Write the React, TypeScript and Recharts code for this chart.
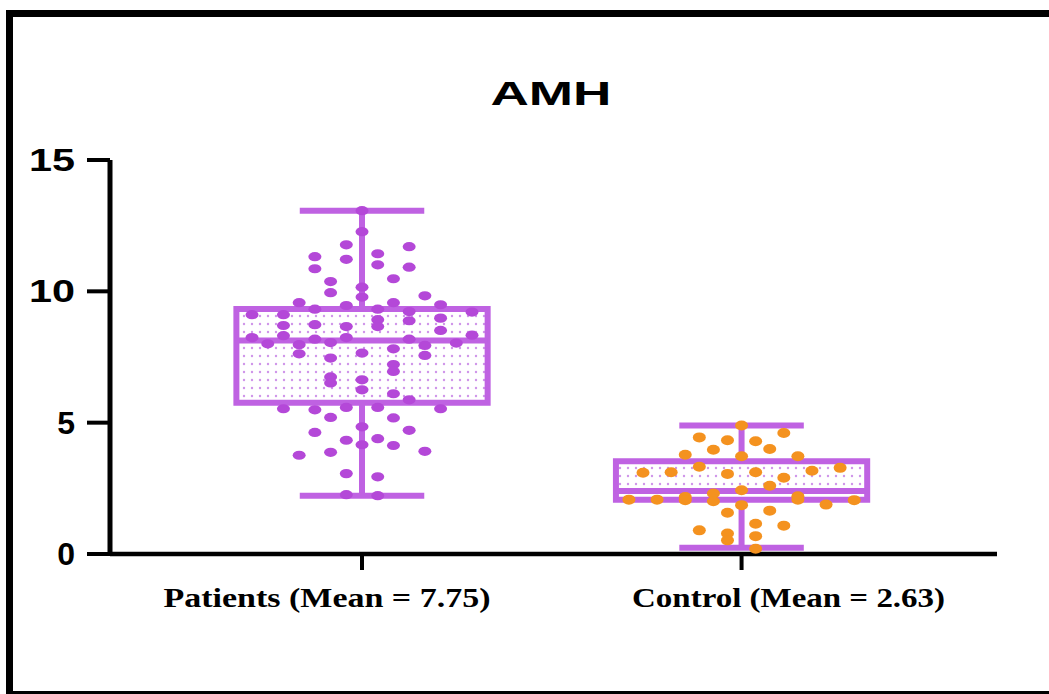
import React from 'react';
import { ScatterChart, Scatter, XAxis, YAxis, ReferenceArea, ReferenceLine } from 'recharts';

const categories = ['Patients (Mean = 7.75)', 'Control (Mean = 2.63)'];
const groupPos = [1, 2];
const yTicks = [0, 5, 10, 15];

// [min, q1, median, q3, max]
const patientStats = [2.22, 5.76, 8.13, 9.33, 13.07];
const controlStats = [0.24, 2.07, 2.4, 3.53, 4.89];

// [jitter column, value]
const patientPoints = [
  [0, 13.07], [0, 12.27], [-1, 11.77], [3, 11.7], [-3, 11.32], [1, 11.43], [-1, 11.22], [1, 11.01],
  [-3, 10.86], [3, 10.92], [2, 10.48], [-2, 10.37], [-2, 9.95], [0, 10.16], [0, 9.78], [4, 9.83],
  [-4, 9.57], [2, 9.57], [-1, 9.46], [5, 9.49], [-3, 9.32], [1, 9.32], [-7, 9.11], [-5, 9.11],
  [3, 9.23], [7, 9.21], [1, 8.92], [3, 8.88], [5, 8.98], [-5, 8.7], [-3, 8.73], [-1, 8.66],
  [1, 8.66], [5, 8.51], [-7, 8.24], [-5, 8.31], [-3, 8.18], [-1, 8.24], [3, 8.18], [7, 8.33],
  [-6, 8.0], [-4, 7.97], [-2, 8.05], [4, 7.94], [6, 8.03], [-4, 7.62], [0, 7.65], [2, 7.81],
  [4, 7.56], [-2, 7.46], [2, 7.21], [2, 6.95], [-2, 6.74], [-2, 6.51], [0, 6.63], [0, 6.25],
  [2, 6.1], [3, 5.87], [-5, 5.53], [-3, 5.49], [-1, 5.58], [1, 5.58], [5, 5.53], [-2, 5.2],
  [2, 5.18], [0, 4.84], [-3, 4.63], [3, 4.71], [-1, 4.33], [1, 4.39], [0, 4.16], [2, 4.13],
  [-4, 3.76], [-2, 3.87], [4, 3.91], [-1, 3.06], [1, 2.94], [-1, 2.26], [1, 2.22],
];

const controlPoints = [
  [0, 4.89], [3, 4.61], [-3, 4.44], [-1, 4.33], [1, 4.29], [-2, 3.97], [2, 4.0], [-4, 3.78],
  [0, 3.72], [4, 3.72], [-3, 3.32], [7, 3.28], [-7, 3.09], [-5, 3.11], [-1, 3.05], [1, 3.11],
  [5, 3.17], [3, 2.9], [2, 2.6], [0, 2.43], [-2, 2.3], [-4, 2.17], [4, 2.2], [-8, 2.07],
  [-6, 2.07], [-4, 2.05], [-2, 2.01], [4, 2.07], [8, 2.05], [0, 1.86], [6, 1.88], [-1, 1.57],
  [2, 1.65], [1, 1.15], [3, 1.08], [-3, 0.9], [-1, 0.78], [-1, 0.52], [1, 0.68], [1, 0.2],
];

// layout
const BOX_HALF = 0.331;
const CAP_HALF = 0.164;
const PATIENT_STEP = 0.0414;
const CONTROL_STEP = 0.0371;
const labelShift = [-35, 47];
const labelWidth = [327, 313];
const BOX_COLOR = '#bf62e2';

const patientData = patientPoints.map(([c, v]) => ({ x: groupPos[0] + c * PATIENT_STEP, y: v }));
const controlData = controlPoints.map(([c, v]) => ({ x: groupPos[1] + c * CONTROL_STEP, y: v }));

const ellipse = (color: string, rx: number, ry: number) => (props: any) => (
  <ellipse cx={props.cx} cy={props.cy} rx={rx} ry={ry} fill={color} />
);

const XTick = ({ x, y, payload }: any) => {
  const i = groupPos.indexOf(payload.value);
  return (
    <text
      x={x + labelShift[i]}
      y={y + 35}
      textAnchor="middle"
      fontFamily="'Liberation Serif', 'Times New Roman', serif"
      fontWeight="bold"
      fontSize={28}
      fill="#000"
      textLength={labelWidth[i]}
      lengthAdjust="spacingAndGlyphs"
    >
      {categories[i]}
    </text>
  );
};

const YTick = ({ x, y, payload }: any) => {
  const s = String(payload.value);
  return (
    <text
      x={x}
      y={y + 11}
      textAnchor="end"
      fontFamily="'Liberation Sans', Arial, sans-serif"
      fontWeight="bold"
      fontSize={32}
      fill="#000"
      textLength={s.length > 1 ? 46 : undefined}
      lengthAdjust="spacingAndGlyphs"
    >
      {s}
    </text>
  );
};

const boxParts = (pos: number, st: number[], k: string) => {
  const [mn, q1, med, q3, mx] = st;
  const line = { stroke: BOX_COLOR, strokeWidth: 6, ifOverflow: 'visible' as const };
  return [
    <ReferenceLine key={k + 'w1'} segment={[{ x: pos, y: q3 }, { x: pos, y: mx }]} {...line} />,
    <ReferenceLine key={k + 'w2'} segment={[{ x: pos, y: mn }, { x: pos, y: q1 }]} {...line} />,
    <ReferenceLine key={k + 'c1'} segment={[{ x: pos - CAP_HALF, y: mx }, { x: pos + CAP_HALF, y: mx }]} {...line} />,
    <ReferenceLine key={k + 'c2'} segment={[{ x: pos - CAP_HALF, y: mn }, { x: pos + CAP_HALF, y: mn }]} {...line} />,
    <ReferenceArea
      key={k + 'box'}
      x1={pos - BOX_HALF}
      x2={pos + BOX_HALF}
      y1={q1}
      y2={q3}
      fill="url(#boxDots)"
      fillOpacity={1}
      stroke={BOX_COLOR}
      strokeWidth={6}
      ifOverflow="visible"
    />,
    <ReferenceLine key={k + 'med'} segment={[{ x: pos - BOX_HALF, y: med }, { x: pos + BOX_HALF, y: med }]} {...line} />,
  ];
};

export default function App() {
  return (
    <div style={{ position: 'absolute', left: 0, top: 0, width: 1049, height: 694, overflow: 'hidden', background: '#fff' }}>
      <svg width={0} height={0} style={{ position: 'absolute' }}>
        <defs>
          <pattern id="boxDots" width={8} height={8} patternUnits="userSpaceOnUse">
            <rect width={8} height={8} fill="#fff" />
            <circle cx={4} cy={4} r={1.2} fill="#cf95ea" />
          </pattern>
        </defs>
      </svg>
      <div
        style={{
          position: 'absolute',
          left: 6,
          top: 10,
          width: 1070,
          height: 688,
          border: '7px solid #000',
          boxSizing: 'border-box',
        }}
      />
      <div style={{ position: 'absolute', left: 0, top: 0 }}>
        <ScatterChart width={1049} height={694} margin={{ top: 160, right: 52, bottom: 80, left: 0 }}>
          <XAxis
            type="number"
            dataKey="x"
            domain={[0.336, 2.673]}
            allowDataOverflow
            ticks={groupPos}
            tick={<XTick />}
            tickSize={16}
            height={60}
            axisLine={{ stroke: '#000', strokeWidth: 4.5 }}
            tickLine={{ stroke: '#000', strokeWidth: 4 }}
          />
          <YAxis
            type="number"
            dataKey="y"
            domain={[0, 15]}
            ticks={yTicks}
            width={110}
            tickSize={23}
            tickMargin={12}
            tick={<YTick />}
            axisLine={{ stroke: '#000', strokeWidth: 5 }}
            tickLine={{ stroke: '#000', strokeWidth: 4 }}
          />
          {boxParts(groupPos[0], patientStats, 'p')}
          {boxParts(groupPos[1], controlStats, 'c')}
          <Scatter data={patientData} shape={ellipse('#b448d8', 6.5, 4.6)} isAnimationActive={false} />
          <Scatter data={controlData} shape={ellipse('#f4921f', 6.5, 5)} isAnimationActive={false} />
        </ScatterChart>
      </div>
      <svg width={1049} height={694} style={{ position: 'absolute', left: 0, top: 0, pointerEvents: 'none' }}>
        <text
          x={551}
          y={105}
          textAnchor="middle"
          fontFamily="'Liberation Sans', Arial, sans-serif"
          fontWeight="bold"
          fontSize={34}
          fill="#000"
          textLength={121}
          lengthAdjust="spacingAndGlyphs"
        >
          AMH
        </text>
      </svg>
    </div>
  );
}
